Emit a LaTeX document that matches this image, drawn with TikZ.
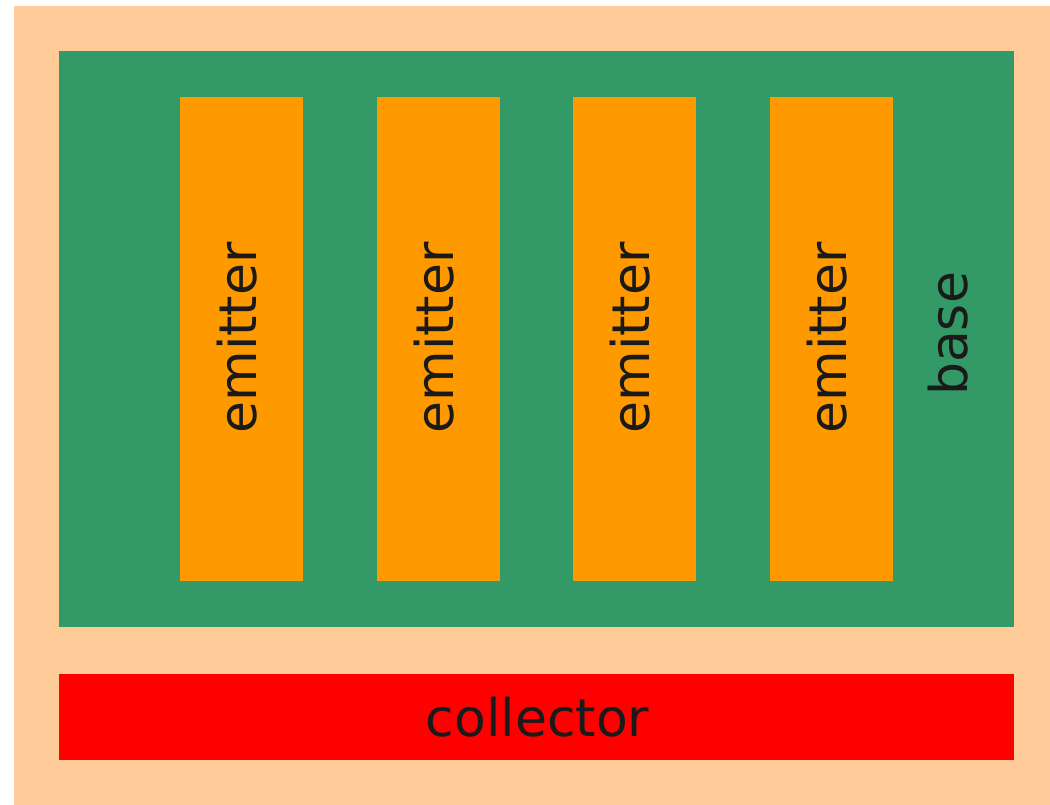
\documentclass[tikz,border=0pt]{standalone}
\usepackage{fontspec}
\setmainfont{DejaVu Sans}
\definecolor{peach}{HTML}{FFCC99}
\definecolor{basegreen}{HTML}{339966}
\definecolor{emitorange}{HTML}{FF9900}
\definecolor{collred}{HTML}{FF0000}
\definecolor{txt}{HTML}{1A1A1A}
\begin{document}
\begin{tikzpicture}[x=1pt,y=-1pt,
  region/.style={inner sep=0pt,outer sep=0pt,draw=none},
  lbl/.style={text=txt,font=\fontsize{52}{60}\selectfont,inner sep=0pt}]
\useasboundingbox (0,0) rectangle (1050,805);
\fill[peach] (13.5,6) rectangle (1050,805);
\node[region,fill=basegreen,minimum width=955pt,minimum height=576pt] (base) at (536.5,339) {};
\node[region,fill=collred,minimum width=955pt,minimum height=86pt] (coll) at (536.5,717) {};
\foreach \i/\x in {1/241.5,2/438.5,3/634.5,4/831.5}{
  \node[region,fill=emitorange,minimum width=123pt,minimum height=484pt] (e\i) at (\x,339) {};
  \node[lbl,rotate=90] (t\i) at ([xshift=-4pt,yshift=1pt]e\i.center) {emitter};
}
\node[lbl,rotate=90] (tb) at (948,334) {base};
\node[lbl] (tc) at ([xshift=1pt]coll.center) {collector};
\end{tikzpicture}
\end{document}
